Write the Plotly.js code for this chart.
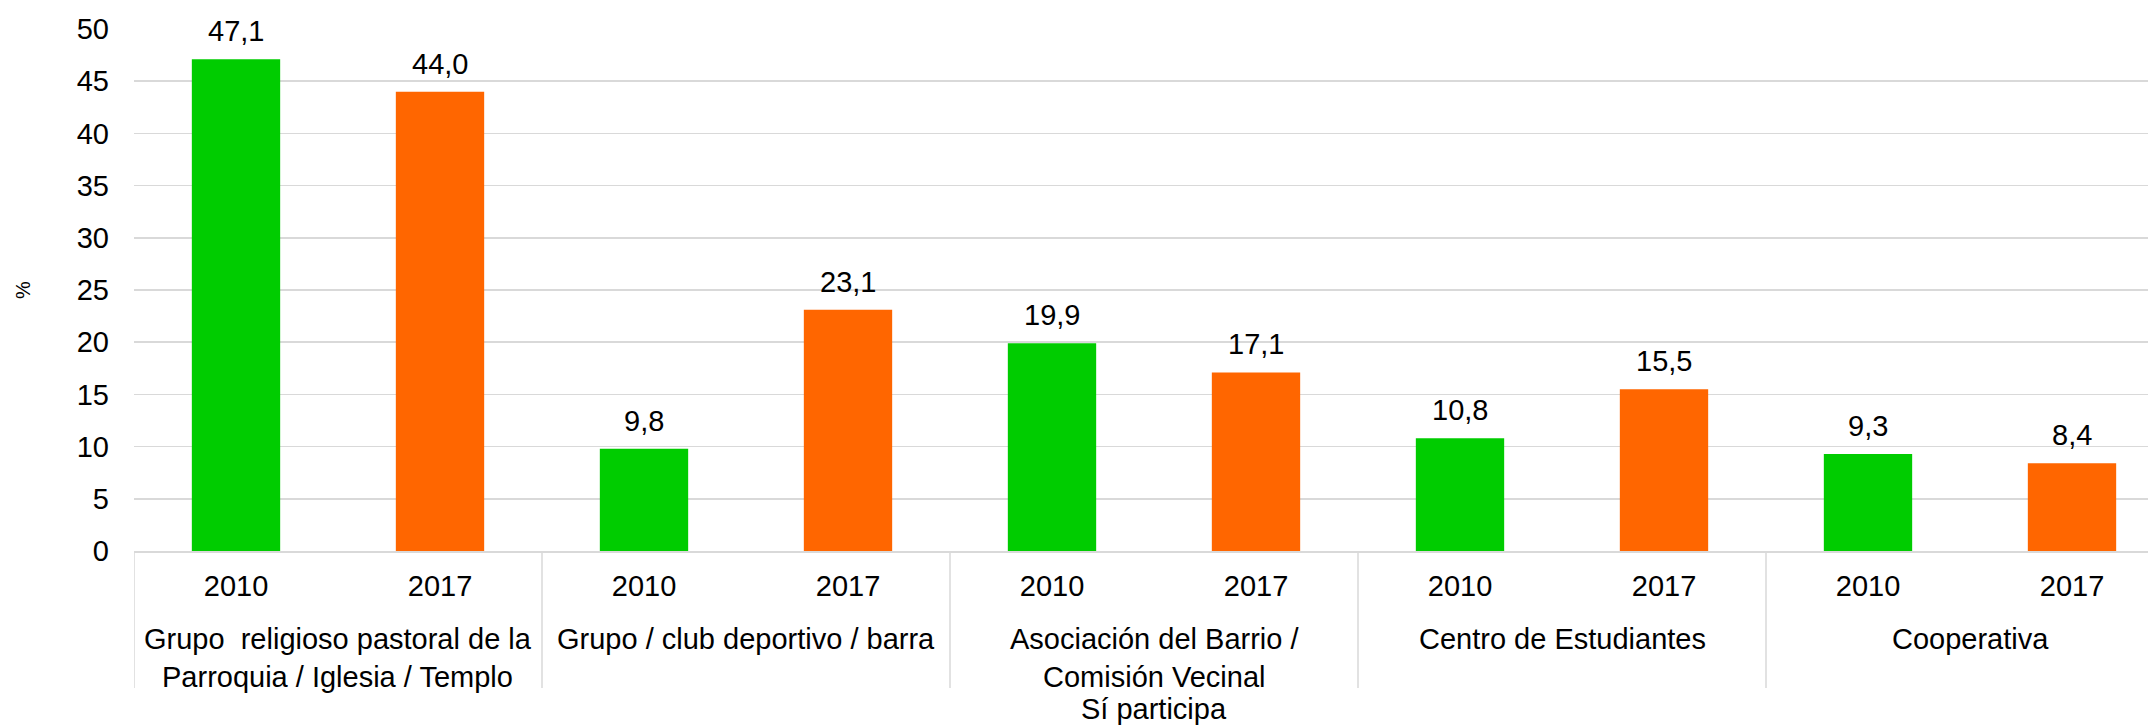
<!DOCTYPE html>
<html>
<head>
<meta charset="utf-8">
<script src="https://cdn.plot.ly/plotly-3.0.1.min.js"></script>
<style>html,body{margin:0;padding:0;background:#fff;}#chart{width:2148px;height:725px;}</style>
</head>
<body>
<div id="chart"></div>
<script>
// Data
const groups = [
  "Grupo  religioso pastoral de la<br>Parroquia / Iglesia / Templo",
  "Grupo / club deportivo / barra",
  "Asociación del Barrio /<br>Comisión Vecinal",
  "Centro de Estudiantes",
  "Cooperativa"
];
const years = ["2010", "2017"];
const values2010 = [47.1, 9.8, 19.9, 10.8, 9.3];
const values2017 = [44.0, 23.1, 17.1, 15.5, 8.4];
const outerTitle = "Sí participa";
const yTitle = "%";

const GREEN = "#00CC00", ORANGE = "#FF6600", GRID = "#D9D9D9";
const FONT = "Liberation Sans, Arial, sans-serif";
const FS = 29;

const series = [values2010, values2017];
const colors = [GREEN, ORANGE];
const nY = years.length;

const traces = series.map((vals, s) => ({
  type: "bar",
  name: years[s],
  x: vals.map((v, g) => g * nY + s),
  y: vals,
  width: 0.433,
  marker: {color: colors[s]},
  hoverinfo: "skip"
}));

const fmt = v => v.toFixed(1).replace(".", ",");
const annotations = [];
series.forEach((vals, s) => vals.forEach((v, g) => {
  annotations.push({
    x: g * nY + s, y: v, xref: "x", yref: "y",
    text: fmt(v), showarrow: false, yanchor: "bottom", yshift: 10,
    font: {family: FONT, size: FS, color: "#000"}
  });
}));
groups.forEach((name, g) => {
  annotations.push({
    x: g * nY + (nY - 1) / 2, y: 0, xref: "x", yref: "paper",
    text: name, showarrow: false, yanchor: "top", yshift: -70,
    font: {family: FONT, size: FS, color: "#000"}
  });
});
annotations.push({
  x: (groups.length * nY - 1) / 2, y: 0, xref: "x", yref: "paper",
  text: outerTitle, showarrow: false, yanchor: "top", yshift: -140,
  font: {family: FONT, size: FS, color: "#000"}
});

const shapes = [];
for (let g = 0; g <= groups.length; g++) {
  shapes.push({
    type: "line", xref: "x", yref: "paper",
    x0: g * nY - 0.5, x1: g * nY - 0.5, y0: 0, y1: -0.2625,
    line: {color: GRID, width: 1.5}
  });
}

const tickvals = [], ticktext = [];
groups.forEach((_, g) => years.forEach((yr, s) => { tickvals.push(g * nY + s); ticktext.push(yr); }));

const plotW = 2148 - 134;
const slot = 204;

const layout = {
  width: 2148, height: 725,
  margin: {l: 134, r: 0, t: 29, b: 174, pad: 0},
  paper_bgcolor: "#fff", plot_bgcolor: "#fff",
  barmode: "overlay",
  showlegend: false,
  font: {family: FONT, size: FS, color: "#000"},
  xaxis: {
    type: "linear",
    range: [-0.5, -0.5 + plotW / slot],
    tickvals: tickvals, ticktext: ticktext,
    showgrid: false, zeroline: false,
    showline: true, linecolor: GRID, linewidth: 1.5,
    ticks: "", ticklabelstandoff: 9,
    tickfont: {family: FONT, size: FS, color: "#000"},
    fixedrange: true
  },
  yaxis: {
    range: [0, 50], dtick: 5, tick0: 0,
    showgrid: true, gridcolor: GRID, gridwidth: 1.5,
    zeroline: false, showline: false,
    ticks: "", ticklabelstandoff: 24,
    tickfont: {family: FONT, size: FS, color: "#000"},
    title: {text: yTitle, font: {family: FONT, size: 20, color: "#000"}, standoff: 40},
    fixedrange: true
  },
  annotations: annotations,
  shapes: shapes
};

Plotly.newPlot("chart", traces, layout, {displayModeBar: false, staticPlot: true});
</script>
</body>
</html>
